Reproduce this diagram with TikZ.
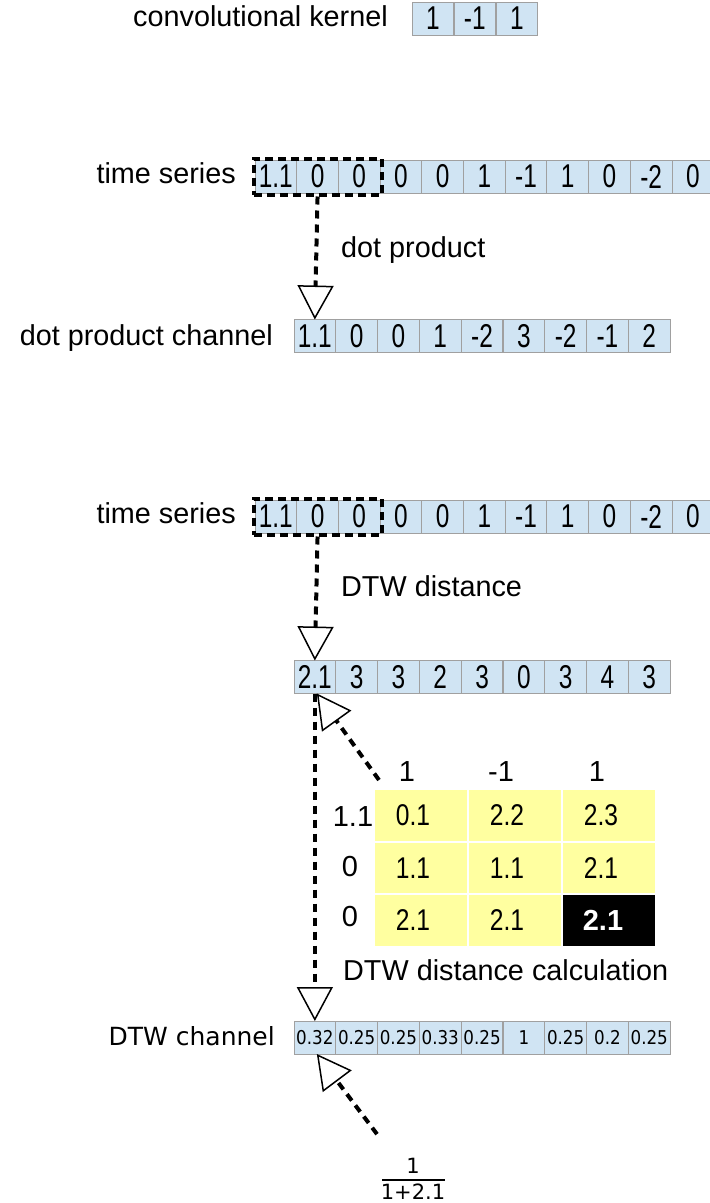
\documentclass[tikz,border=0pt]{standalone}
\usepackage{fontspec}
\setmainfont{Liberation Sans}
\newfontfamily\dejavu{DejaVu Sans}
\usepackage{graphicx}
\usetikzlibrary{arrows.meta,fit}
\definecolor{cellblue}{RGB}{208,228,243}
\definecolor{cellgray}{RGB}{160,160,160}
\definecolor{mtxyellow}{RGB}{255,255,160}
\newcommand\nar[1]{\scalebox{0.74}[1]{#1}}
\newcommand\narm[1]{\scalebox{0.82}[1]{#1}}
\newcommand\nard[1]{\scalebox{0.88}[1]{#1}}
\begin{document}
\begin{tikzpicture}[x=1pt,y=-1pt,
  cellbox/.style={draw=cellgray, fill=cellblue, line width=1pt, minimum width=41.7pt,
    minimum height=33pt, inner sep=0pt, outer sep=0pt, anchor=west,
    font=\fontsize{33}{33}\selectfont},
  smallcell/.style={cellbox, font=\dejavu\fontsize{19}{19}\selectfont},
  lbl/.style={inner sep=0pt, font=\fontsize{28.8}{30}\selectfont, text height=21pt, text depth=6pt},
  dlbl/.style={inner sep=0pt, font=\dejavu\fontsize{25}{27}\selectfont, text height=19pt, text depth=5pt},
  mcell/.style={fill=mtxyellow, draw=white, line width=2pt, minimum width=94pt, minimum height=52.5pt,
    inner sep=0pt, outer sep=0pt, anchor=north west, font=\fontsize{30}{30}\selectfont},
  mhead/.style={inner sep=0pt, font=\fontsize{29}{29}\selectfont},
  window/.style={draw=black, line width=4pt, dash pattern=on 8pt off 5pt, inner sep=1.5pt},
  dasharrow/.style={line width=4pt, dash pattern=on 8pt off 6pt,
    -{Triangle[length=34pt, width=36pt, line width=1.5pt, fill=white]}}
]
\useasboundingbox (0,0) rectangle (710,1203);

% convolutional kernel
\node[lbl, anchor=west] (kl) at (133,19) {convolutional kernel};
\foreach \v [count=\i] in {1,-1,1}
  \node[cellbox] (k\i) at ({412+(\i-1)*42},18.5) {\nar{\v}};

% time series 1
\node[lbl, anchor=east] (tsl1) at (236,176) {time series};
\foreach \v [count=\i] in {1.1,0,0,0,0,1,-1,1,0,-2,0}
  \node[cellbox] (ta\i) at ({255+(\i-1)*41.7},176.5) {\nar{\v}};
\node[window, fit=(ta1)(ta3)] (win1) {};

% dot product channel
\node[lbl, anchor=east] (dcl) at (273,338) {dot product channel};
\foreach \v [count=\i] in {1.1,0,0,1,-2,3,-2,-1,2}
  \node[cellbox] (dc\i) at ({294+(\i-1)*41.8},336) {\nar{\v}};
\draw[dasharrow] (win1.south) -- (dc1.north);
\node[lbl, anchor=west] (dpl) at (341,250) {dot product};

% time series 2
\node[lbl, anchor=east] (tsl2) at (236,516) {time series};
\foreach \v [count=\i] in {1.1,0,0,0,0,1,-1,1,0,-2,0}
  \node[cellbox] (tb\i) at ({255+(\i-1)*41.7},516.5) {\nar{\v}};
\node[window, fit=(tb1)(tb3)] (win2) {};

% DTW distance row
\foreach \v [count=\i] in {2.1,3,3,2,3,0,3,4,3}
  \node[cellbox] (dd\i) at ({294+(\i-1)*41.8},677) {\nar{\v}};
\draw[dasharrow] (win2.south) -- (dd1.north);
\node[lbl, anchor=west] (dtwl) at (341,589) {DTW distance};

% DTW matrix
\foreach \a/\b [count=\j] in {0.1/2.2, 1.1/1.1, 2.1/2.1}{
  \node[mcell] (m\j1) at (374,{789+(\j-1)*52.5}) {\narm{\a}\hspace*{16pt}};
  \node[mcell] (m\j2) at (468,{789+(\j-1)*52.5}) {\narm{\b}\hspace*{16pt}};
}
\node[mcell] (m13) at (562,789) {\narm{2.3}\hspace*{16pt}};
\node[mcell] (m23) at (562,841.5) {\narm{2.1}\hspace*{16pt}};
\node[mcell, fill=black, text=white, font=\bfseries\fontsize{29}{29}\selectfont] (m33) at (562,894) {2.1\hspace*{12pt}};
\node[mhead] (h1) at (407,772) {1};
\node[mhead] (h2) at (501,772) {-1};
\node[mhead] (h3) at (597,772) {1};
\node[mhead] (r1) at (353,817) {1.1};
\node[mhead] (r2) at (350,867) {0};
\node[mhead] (r3) at (350,917) {0};
\node[lbl, anchor=west] (calcl) at (343,973) {DTW distance calculation};

% DTW channel
\node[dlbl, anchor=east] (chl) at (275,1038) {DTW channel};
\foreach \v [count=\i] in {0.32,0.25,0.25,0.33,0.25,1,0.25,0.2,0.25}
  \node[smallcell] (ch\i) at ({294+(\i-1)*41.8},1037.5) {\nard{\v}};

\draw[dasharrow] (dd1.south) -- (ch1.north);
\coordinate (mstart) at ([shift={(5,-9)}]m11.north west);
\draw[dasharrow] (mstart) -- ([xshift=2pt]dd1.south);

% fraction
\node[inner sep=0pt, font=\dejavu\fontsize{21}{21}\selectfont] (fnum) at (413,1166) {1};
\node[inner sep=0pt, font=\dejavu\fontsize{21}{21}\selectfont] (fden) at (413,1192) {1+2.1};
\draw[line width=1.2pt] (382,1180) -- (445,1180);
\coordinate (fstart) at ([shift={(-36,-24)}]fnum.north);
\draw[dasharrow] (fstart) -- ([xshift=2pt]ch1.south);
\end{tikzpicture}
\end{document}
